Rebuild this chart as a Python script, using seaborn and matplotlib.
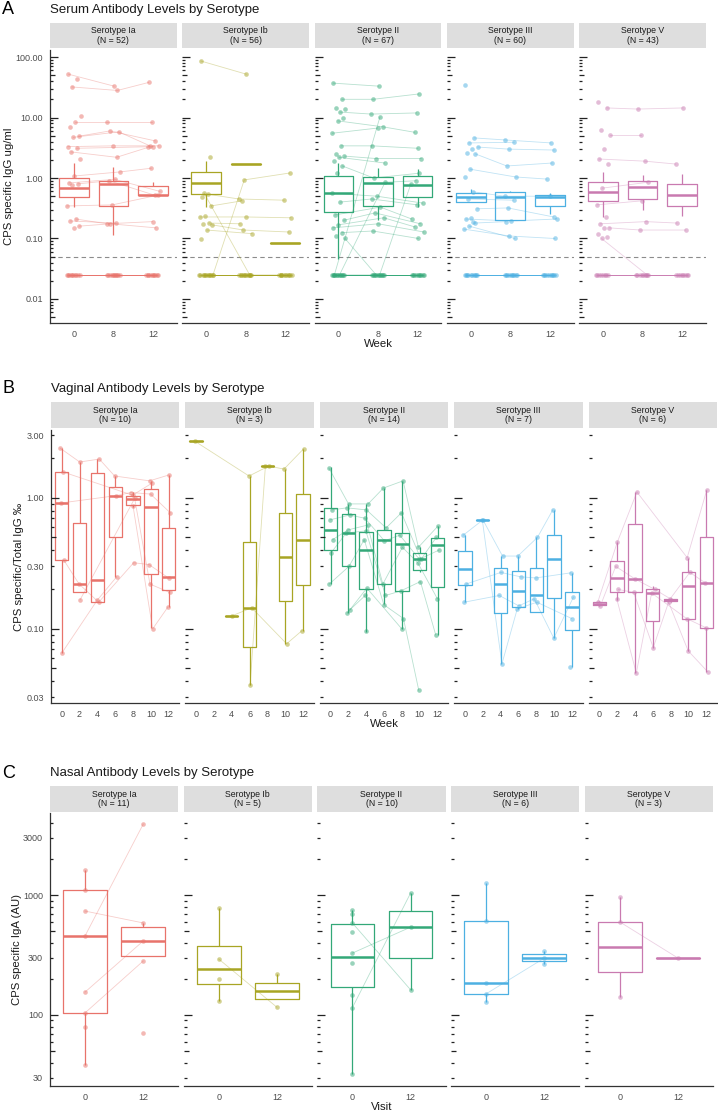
import numpy as np
import pandas as pd
import matplotlib
matplotlib.use("Agg")
import matplotlib.pyplot as plt
import seaborn as sns

sns.set_style("white")
plt.rcParams['font.family'] = ['Liberation Sans', 'DejaVu Sans']

SEROTYPES = ["Ia", "Ib", "II", "III", "V"]
COLORS = ["#E8736B", "#A8A524", "#33A878", "#4DB0E2", "#C97AB0"]
L = 0.025  # serum values below detection are plotted here

# ---- Panel A: serum IgG, visits at week 0, 8, 12 ----
SERUM_WEEKS = [0, 8, 12]
SERUM_N = [52, 56, 67, 60, 43]
SERUM_CUTOFF = 0.05
SERUM_LOD_N = {"Ia": 9, "Ib": 10, "II": 10, "III": 10, "V": 8}
SERUM_SUBJ = {
    "Ia": [[52, 33, None], [43, None, None], [32, 28, 38], [10.6, None, None],
           [8.4, 8.4, 8.4], [7.0, None, None], [4.9, 6.0, 4.1], [4.7, 5.8, 3.4],
           [3.3, 3.4, 3.4], [3.1, None, 3.3], [2.7, 2.2, 3.2], [2.1, None, None],
           [1.08, 1.26, 1.45], [0.83, 0.95, 0.6], [0.8, 0.9, 0.52], [0.78, None, None],
           [0.345, 0.36, 0.52], [0.21, 0.175, 0.19], [0.195, 0.18, None],
           [0.16, 0.175, 0.15], [0.15, None, None], [L, L, None], [None, L, L]],
    "Ib": [[86, 52, None], [2.2, None, None], [0.56, L, L], [L, 0.93, 1.21],
           [0.54, 0.45, 0.43], [0.49, None, None], [0.345, 0.42, None],
           [0.235, None, None], [0.227, 0.227, 0.22], [0.18, 0.175, None],
           [0.175, None, None], [0.168, 0.138, 0.128], [0.138, 0.12, None],
           [0.099, None, None], [L, L, None]],
    "II": [[37, 33, None], [20, 20, 24.5], [14.4, None, None], [13.8, None, None],
           [12.3, 11.4, 11.9], [L, 10.2, None], [9.8, None, None], [8.8, 7.0, 5.7],
           [5.5, 6.7, None], [3.4, 3.4, 3.1], [2.5, None, None], [2.3, 2.1, 2.1],
           [2.2, 1.77, None], [1.9, None, None], [1.58, 1.0, 1.2], [1.2, None, None],
           [0.56, 0.5, 0.385], [0.4, 0.45, 0.36], [0.245, 0.33, 0.21],
           [0.2, 0.265, 0.175], [0.168, 0.22, 0.155], [0.15, 0.175, 0.128],
           [0.125, 0.133, 0.1], [0.11, None, None], [0.1, L, None],
           [L, 0.85, 0.9], [L, L, 0.8]],
    "III": [[34, None, None], [4.6, 4.25, 3.8], [3.8, 3.9, None], [3.25, 3.0, 2.9],
            [3.0, None, None], [2.6, None, None], [2.5, 1.58, 1.77], [1.4, 1.04, 0.96],
            [1.04, None, None], [0.59, 0.5, 0.5], [0.45, 0.43, None],
            [0.31, 0.32, 0.227], [0.22, None, None], [0.21, 0.195, 0.21],
            [0.18, 0.19, None], [0.16, 0.1, None], [0.143, 0.11, 0.1], [0.19, None, None]],
    "V": [[18, None, None], [14.4, 13.8, 14.4], [6.2, None, None], [5.1, 5.1, None],
          [3.0, None, None], [2.06, 1.9, 1.7], [1.7, None, None], [0.68, 0.85, None],
          [0.36, 0.42, None], [0.227, None, None], [0.175, 0.19, 0.18],
          [0.15, 0.138, 0.138], [0.15, None, None], [0.12, None, None],
          [0.105, None, None], [0.1, L, None]],
}
# box summaries per visit: (lower whisker, q1, median, q3, upper whisker)
SERUM_BOX = {
    "Ia": [(0.33, 0.49, 0.68, 1.0, 1.77), (0.114, 0.345, 0.80, 0.89, 1.52), (0.52, 0.52, 0.53, 0.74, 0.86)],
    "Ib": [(0.33, 0.54, 0.83, 1.26, 1.9), (1.7,) * 5, (0.084,) * 5],
    "II": [(0.045, 0.27, 0.56, 1.08, 1.77), (0.2, 0.345, 0.83, 1.04, 1.46), (0.33, 0.49, 0.77, 1.08, 1.4)],
    "III": [(0.40, 0.40, 0.48, 0.56, 0.66), (0.2, 0.2, 0.48, 0.59, 0.62), (0.25, 0.345, 0.48, 0.52, 0.56)],
    "V": [(0.227, 0.415, 0.59, 0.86, 1.26), (0.30, 0.45, 0.71, 0.89, 1.12), (0.235, 0.345, 0.52, 0.80, 1.16)],
}

# ---- Panel B: vaginal IgG ratio, visits every 2 weeks ----
VAG_WEEKS = [0, 2, 4, 6, 8, 10, 12]
VAG_N = [10, 3, 14, 7, 6]
VAG_SUBJ = {
    "Ia": [[2.4, 1.88, 1.98, 1.47, None, 1.35, 1.5], [1.58, None, None, None, 1.05, 1.3, None],
           [0.915, None, None, 1.04, 1.1, 1.07, 0.77], [0.336, 0.22, 0.16, None, 0.32, 0.31, 0.245],
           [0.066, None, 0.165, 0.25, None, None, None], [None, 0.167, None, None, 0.99, 0.22, 0.19],
           [None, None, None, None, 0.87, 0.1, 0.147]],
    "Ib": [[2.72, None, None, 1.47, 1.75, 1.66, 2.37], [None, None, 0.126, 0.145, None, 0.077, 0.097],
           [None, None, None, 0.037, 1.75, None, None]],
    "II": [[1.69, 0.9, 0.9, 1.19, 1.35, 0.42, 0.61], [0.81, 0.84, 0.81, 0.59, 0.77, 0.34, 0.5],
           [0.68, 0.74, 0.70, 0.47, 0.52, 0.34, 0.4], [0.48, 0.57, 0.62, 0.22, 0.42, 0.32, 0.17],
           [0.38, 0.54, 0.56, 0.18, 0.195, 0.23, 0.09], [0.22, 0.30, 0.48, 0.153, 0.12, 0.034, None],
           [None, 0.132, 0.205, None, 0.1, None, None], [None, 0.14, 0.18, None, None, None, None],
           [None, None, 0.17, None, None, None, None], [None, None, 0.097, None, None, None, None]],
    "III": [[0.52, 0.68, 0.36, 0.36, 0.5, 0.81, None], [0.22, None, 0.27, 0.25, 0.245, None, 0.268],
            [0.16, None, 0.18, 0.15, 0.17, 0.085, 0.175], [None, 0.68, 0.054, 0.142, 0.16, None, 0.12],
            [None, None, None, None, None, None, 0.051]],
    "V": [[0.16, 0.46, 1.11, None, None, 0.35, 1.15], [0.15, 0.30, 0.24, 0.2, 0.17, 0.27, 0.225],
          [None, 0.2, 0.19, 0.072, 0.16, 0.068, 0.047], [None, 0.17, 0.046, 0.188, None, 0.12, 0.102]],
}
VAG_BOX = {
    "Ia": [(0.066, 0.336, 0.915, 1.58, 2.4), (0.19, 0.19, 0.22, 0.645, 1.88), (0.16, 0.16, 0.236, 1.55, 1.98),
           (0.25, 0.50, 1.04, 1.21, 1.47), (0.855, 0.885, 0.98, 1.04, 1.11), (0.102, 0.263, 0.855, 1.17, 1.35),
           (0.147, 0.198, 0.25, 0.59, 1.5)],
    "Ib": [(2.72,) * 5, None, (0.126,) * 5, (0.037, 0.073, 0.145, 0.46, 1.47), (1.75,) * 5,
           (0.077, 0.164, 0.355, 0.77, 1.66), (0.097, 0.217, 0.48, 1.07, 2.37)],
    "II": [(0.22, 0.40, 0.57, 0.84, 1.72), (0.132, 0.30, 0.54, 0.755, 0.9), (0.095, 0.2, 0.40, 0.55, 0.9),
           (0.155, 0.22, 0.48, 0.57, 1.19), (0.1, 0.195, 0.445, 0.54, 1.35), (0.27, 0.28, 0.34, 0.38, 0.42),
           (0.09, 0.21, 0.44, 0.495, 0.61)],
    "III": [(0.16, 0.217, 0.287, 0.39, 0.52), (0.68,) * 5, (0.054, 0.133, 0.22, 0.29, 0.36),
            (0.142, 0.147, 0.195, 0.277, 0.36), (0.135, 0.135, 0.18, 0.29, 0.50),
            (0.085, 0.172, 0.34, 0.52, 0.81), (0.051, 0.098, 0.147, 0.19, 0.268)],
    "V": [(0.15, 0.152, 0.155, 0.16, 0.162), (0.167, 0.19, 0.245, 0.33, 0.46), (0.046, 0.19, 0.24, 0.63, 1.11),
          (0.072, 0.115, 0.188, 0.2, 0.213), (0.16, 0.163, 0.167, 0.17, 0.172), (0.068, 0.12, 0.213, 0.27, 0.35),
          (0.047, 0.102, 0.225, 0.50, 1.15)],
}

# ---- Panel C: nasal IgA, visit 0 and 12 ----
NASAL_VISITS = [0, 12]
NASAL_N = [11, 5, 10, 6, 3]
NASAL_SUBJ = {
    "Ia": [[1615, None], [1100, None], [735, 585], [455, 3900], [155, 414], [104, 282],
           [80, None], [38, None], [None, 71]],
    "Ib": [[780, None], [293, 116], [200, None], [131, None], [None, 219]],
    "II": [[750, None], [700, None], [585, 162], [490, None], [328, 540], [270, None],
           [147, None], [115, 1040], [32, None]],
    "III": [[1260, None], [608, None], [185, None], [150, 298], [128, None], [None, 340], [None, 266]],
    "V": [[960, None], [597, 298], [141, None]],
}
NASAL_BOX = {
    "Ia": [(38, 104, 455, 1100, 1615), (310, 310, 414, 540, 585)],
    "Ib": [(131, 181, 242, 376, 780), (136, 136, 158, 185, 219)],
    "II": [(32, 171, 304, 573, 750), (162, 298, 540, 735, 1040)],
    "III": [(128, 150, 185, 608, 1260), (266, 282, 298, 322, 340)],
    "V": [(141, 228, 369, 597, 960), (298,) * 5],
}

W, H = 718, 1112
fig = plt.figure(figsize=(W / 100, H / 100), dpi=100)


def rect(x0, y0, x1, y1):
    return [x0 / W, 1 - y1 / H, (x1 - x0) / W, (y1 - y0) / H]


def jitter(i, k, width):
    return width * (2 * ((i * 0.6180339887 + k * 0.4142135 + 0.13) % 1.0) - 1)


def log_ticks(ax, ylim, width_px):
    tr = ax.get_yaxis_transform()
    for dec in range(int(np.floor(np.log10(ylim[0]))), int(np.ceil(np.log10(ylim[1])))):
        for m in range(1, 10):
            v = m * 10.0 ** dec
            if not (ylim[0] <= v <= ylim[1]):
                continue
            ln = 8 if m == 1 else (5 if m == 5 else 3)
            ax.plot([0, ln / width_px], [v, v], transform=tr, color="#222222", lw=0.9,
                    solid_capstyle="butt", clip_on=False, zorder=5)


def panel(letter, title, ylabel, xlabel, weeks, subj, boxes, ns, geo, ylim,
          yticks, yticklabels, jit, ylab_x, cutoff=None, lod_n=None):
    ptop, pbot, stop, sbot, xl, xr, gap = geo
    fw = (xr - xl - 4 * gap) / 5
    fig.text(2 / W, 1 - ((stop - 13) / H), letter, fontsize=13, va="center", ha="left", color="black")
    fig.text(xl / W, 1 - ((stop - 13) / H), title, fontsize=9.5, va="center", ha="left", color="#1A1A1A")
    fig.text(ylab_x / W, 1 - ((ptop + pbot) / 2 / H), ylabel, rotation=90, fontsize=8.2,
             va="center", ha="center", color="#1A1A1A")
    fig.text(((xl + xr) / 2) / W, 1 - ((pbot + 21) / H), xlabel, fontsize=8.2,
             va="center", ha="center", color="#1A1A1A")
    n = len(weeks)
    for j, s in enumerate(SEROTYPES):
        c = COLORS[j]
        x0 = xl + j * (fw + gap)
        sax = fig.add_axes(rect(x0, stop, x0 + fw, sbot))
        sax.set_facecolor("#DEDEDE")
        sax.set_xticks([]); sax.set_yticks([])
        for sp in sax.spines.values():
            sp.set_visible(False)
        sax.text(0.5, 0.5, f"Serotype {s}\n(N = {ns[j]})", ha="center", va="center",
                 fontsize=6.3, color="#1A1A1A", transform=sax.transAxes, linespacing=1.1)

        ax = fig.add_axes(rect(x0, ptop, x0 + fw, pbot))
        ax.set_yscale("log")
        ax.set_ylim(ylim)

        trajs = list(subj[s])
        if lod_n is not None:
            trajs += [[L] * n for _ in range(lod_n[s])]
        rows = []
        for i, tr in enumerate(trajs):
            for k, v in enumerate(tr):
                if v is not None:
                    rows.append({"sid": i, "x": k + jitter(i, k, jit), "y": v})
        df = pd.DataFrame(rows)
        if cutoff is not None:
            ax.axhline(cutoff, color="#8C8C8C", ls=(0, (4, 3)), lw=0.8, zorder=1)
        sns.lineplot(data=df, x="x", y="y", units="sid", estimator=None, sort=True,
                     color=c, alpha=0.35, lw=0.6, ax=ax, legend=False)
        sns.scatterplot(data=df, x="x", y="y", color=c, alpha=0.5, s=11, linewidth=0,
                        ax=ax, legend=False)

        brows = []
        for k, st in enumerate(boxes[s]):
            if st is None:
                continue
            for v in st:
                brows.append({"pos": k, "val": v})
        bdf = pd.DataFrame(brows)
        sns.boxplot(data=bdf, x="pos", y="val", native_scale=True, orient="x",
                    whis=(0, 100), showfliers=False, showcaps=False, fill=False,
                    color=c, linewidth=0.9, width=0.75,
                    medianprops={"linewidth": 1.8}, ax=ax)

        ax.set_xlim(-0.6, n - 0.4)
        ax.set_ylim(ylim)
        ax.set_xticks(range(n))
        ax.set_xticklabels([str(w) for w in weeks])
        ax.set_xlabel(""); ax.set_ylabel("")
        ax.tick_params(axis="x", length=0, pad=5, labelsize=6.5, labelcolor="#4D4D4D")
        ax.yaxis.set_minor_locator(matplotlib.ticker.NullLocator())
        for sp in ["top", "right"]:
            ax.spines[sp].set_visible(False)
        ax.spines["bottom"].set_color("#333333")
        ax.spines["bottom"].set_linewidth(0.9)
        if j == 0:
            ax.set_yticks(yticks)
            ax.set_yticklabels(yticklabels)
            ax.tick_params(axis="y", length=3, width=0.9, color="#333333", pad=2,
                           labelsize=6.5, labelcolor="#4D4D4D")
            ax.spines["left"].set_color("#333333")
            ax.spines["left"].set_linewidth(0.9)
        else:
            ax.set_yticks([])
            ax.spines["left"].set_visible(False)
        log_ticks(ax, ylim, fw)


panel("A", "Serum Antibody Levels by Serotype", "CPS specific IgG ug/ml", "Week",
      SERUM_WEEKS, SERUM_SUBJ, SERUM_BOX, SERUM_N,
      (50, 323, 23, 48, 50, 706, 5.5), (0.00401, 130.6),
      [100, 10, 1, 0.1, 0.01], ["100.00", "10.00", "1.00", "0.10", "0.01"],
      0.18, 9, cutoff=SERUM_CUTOFF, lod_n=SERUM_LOD_N)

panel("B", "Vaginal Antibody Levels by Serotype", "CPS specific/Total IgG \u2030", "Week",
      VAG_WEEKS, VAG_SUBJ, VAG_BOX, VAG_N,
      (430, 703, 402, 428, 51, 717, 6), (0.0272, 3.30),
      [3, 1, 0.3, 0.1, 0.03], ["3.00", "1.00", "0.30", "0.10", "0.03"],
      0.12, 19)

panel("C", "Nasal Antibody Levels by Serotype", "CPS specific IgA (AU)", "Visit",
      NASAL_VISITS, NASAL_SUBJ, NASAL_BOX, NASAL_N,
      (813, 1086, 786, 812, 50, 713, 5.5), (25.6, 4825),
      [3000, 1000, 300, 100, 30], ["3000", "1000", "300", "100", "30"],
      0.0, 17)

fig.savefig("out.png", dpi=100)
